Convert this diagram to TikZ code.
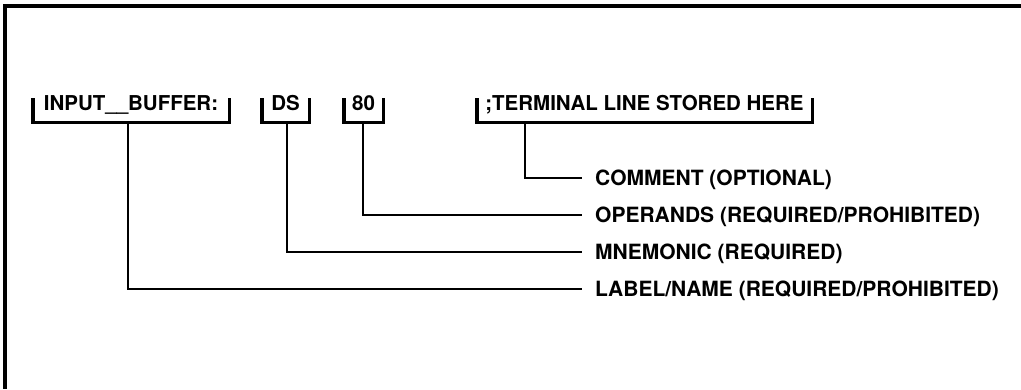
\documentclass[tikz,border=0pt]{standalone}
\usepackage{fontspec}
\setmainfont{TeX Gyre Heros}
\usetikzlibrary{positioning}

\tikzset{
  field/.style={font=\bfseries\fontsize{20.5}{20.5}\selectfont, inner xsep=0pt, inner ysep=0pt,
                text height=12pt, text depth=0pt, anchor=north},
  bracket/.style={line width=3.4pt},
  lead/.style={line width=2.4pt},
  part/.style={font=\bfseries\fontsize{21}{21}\selectfont, inner xsep=13pt, inner ysep=0pt,
               text height=15pt, text depth=0pt, anchor=west}
}

\begin{document}
\begin{tikzpicture}[x=1pt,y=-1pt]
  \useasboundingbox (0,0) rectangle (1021,389);
  % frame: top and left only
  \draw[line width=3.2pt] (1021,6) -- (5,6) -- (5,389);

  % the statement, one bracket per field
  \node[field, minimum width=196pt] (inp) at (131,98) {INPUT\_\_BUFFER:};
  \node[field, minimum width=47pt]  (ds)  at (285.5,98) {DS};
  \node[field, minimum width=39pt]  (opd) at (363.5,98) {80};
  \node[field, minimum width=335pt] (cmt) at (644.5,98) {;TERMINAL LINE STORED HERE};
  \foreach \f in {inp,ds,opd,cmt} {
    \draw[bracket] (\f.north west) -- ([yshift=-12pt]\f.south west)
      -- ([yshift=-12pt]\f.south east) -- (\f.north east);
  }

  % where each lead leaves its bracket
  \coordinate (inp-s) at (128,122);
  \coordinate (ds-s)  at (287,122);
  \coordinate (opd-s) at (363,122);
  \coordinate (cmt-s) at (525,122);

  % names of the fields
  \node[part] (cmt-l) at (582,178) {COMMENT (OPTIONAL)};
  \node[part] (opd-l) at (582,215) {OPERANDS (REQUIRED/PROHIBITED)};
  \node[part] (ds-l)  at (582,252) {MNEMONIC (REQUIRED)};
  \node[part] (inp-l) at (582,289) {LABEL/NAME (REQUIRED/PROHIBITED)};

  \foreach \f in {inp,ds,opd,cmt} {
    \draw[lead] (\f-s) |- (\f-l.west);
  }
\end{tikzpicture}
\end{document}
